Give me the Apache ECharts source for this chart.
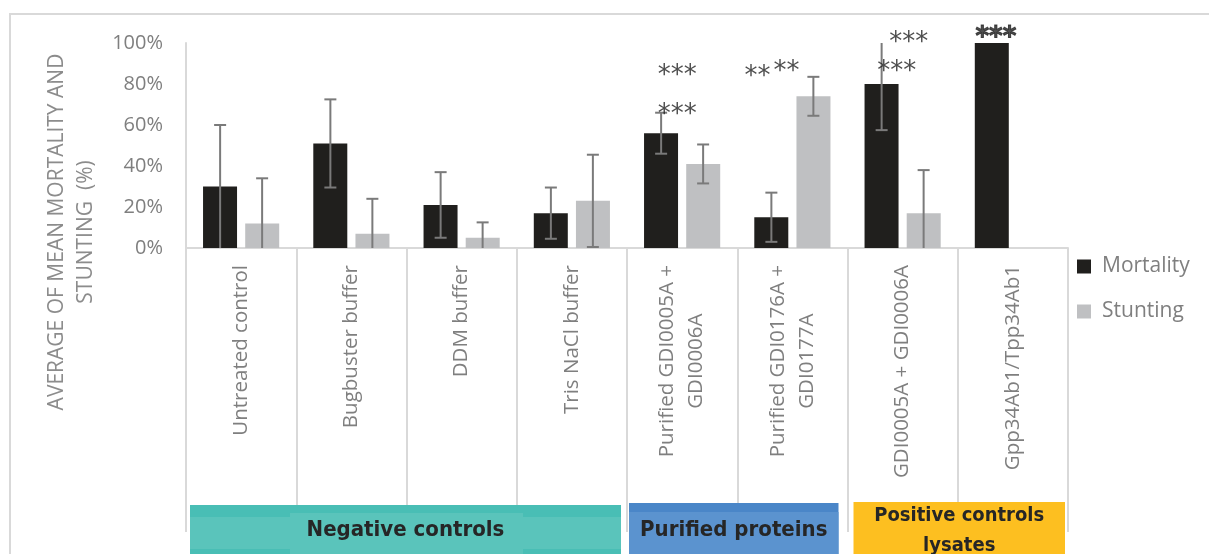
<!DOCTYPE html>
<html>
<head>
<meta charset="utf-8">
<script src="https://cdn.jsdelivr.net/npm/echarts@6/dist/echarts.min.js"></script>
<style>
html,body{margin:0;padding:0;background:#fff;}
#chart{width:1209px;height:554px;}
</style>
</head>
<body>
<div id="chart"></div>
<script>
// ---- data ----
const categories = [
  'Untreated control',
  'Bugbuster buffer',
  'DDM buffer',
  'Tris NaCl buffer',
  'Purified GDI0005A +\nGDI0006A',
  'Purified GDI0176A +\nGDI0177A',
  'GDI0005A + GDI0006A',
  'Gpp34Ab1/Tpp34Ab1'
];
const mortality    = [30, 51, 21, 17, 56, 15, 80, 100];
const mortalityErr = [30, 21.5, 16, 12.5, 10, 12, 22.5, 0];
const stunting     = [12, 7, 5, 23, 41, 74, 17, 0];
const stuntingErr  = [22, 17, 7.5, 22.5, 9.5, 9.5, 21, 0];
const yTicks = [0, 20, 40, 60, 80, 100];

// significance marks: category index, value level, text
const sigIndex = [4, 4, 5, 5, 6, 6, 7];
const sigValue = [86.3, 67.3, 85.9, 88.3, 102.4, 88.3, 104.9];
const sigText  = ['***', '***', '**', '**', '***', '***', '***'];

const groupNames = ['Negative controls', 'Purified proteins', 'Positive controls\nlysates'];
const groupStart = [0, 4, 6];
const groupEnd   = [3, 5, 7];

// ---- styling ----
const sigDx = [-5, -5, -35, -6, 6, -6, -17];
const sigBold = [false, false, false, false, false, false, true];
const BAR_W = 34, HALF_OFF = 21;
const FONT = '"Open Sans", "DejaVu Sans", sans-serif';
const GRAY = '#7f7f7f';

function errSeries(means, errs, off) {
  return {
    type: 'custom',
    z: 5,
    silent: true,
    data: means.map((m, i) => [i, m, errs[i]]),
    renderItem: function (params, api) {
      const i = api.value(0), m = api.value(1), e = api.value(2);
      if (!e) return null;
      const hiV = Math.min(m + e, 100), loV = Math.max(m - e, 0);
      const hi = api.coord([i, hiV]);
      const lo = api.coord([i, loV]);
      const x = hi[0] + off;
      const st = { stroke: '#7a7a7a', lineWidth: 2 };
      const ch = [{ type: 'line', shape: { x1: x, y1: hi[1], x2: x, y2: lo[1] }, style: st }];
      if (m + e < 100) ch.push({ type: 'line', shape: { x1: x - 6, y1: hi[1], x2: x + 6, y2: hi[1] }, style: st });
      if (m - e > 0) ch.push({ type: 'line', shape: { x1: x - 6, y1: lo[1], x2: x + 6, y2: lo[1] }, style: st });
      return { type: 'group', children: ch };
    }
  };
}

const chart = echarts.init(document.getElementById('chart'));
const option = {
  animation: false,
  backgroundColor: '#ffffff',
  textStyle: { fontFamily: FONT },
  grid: { left: 186, right: 141, top: 43, bottom: 306, containLabel: false },
  legend: {
    orient: 'vertical',
    left: 1072, top: 251,
    itemWidth: 14, itemHeight: 14, itemGap: 24,
    icon: 'rect',
    data: ['Mortality', 'Stunting'],
    textStyle: { color: GRAY, fontSize: 21, lineHeight: 20, fontFamily: FONT, padding: [0, 0, 0, 6] }
  },
  xAxis: {
    type: 'category',
    data: categories,
    axisLine: { lineStyle: { color: '#d9d9d9', width: 2 } },
    axisTick: { show: true, length: 284, interval: 0, lineStyle: { color: '#d9d9d9', width: 2 } },
    axisLabel: {
      interval: 0,
      rotate: 90,
      margin: 17,
      color: GRAY,
      fontSize: 20.5,
      fontFamily: FONT,
      formatter: v => v.split('\n').map(s => '{c|' + s + '}').join('\n'),
      rich: { c: { align: 'center', color: GRAY, fontSize: 20.5, fontFamily: FONT, lineHeight: 29 } }
    }
  },
  yAxis: {
    type: 'value',
    min: yTicks[0], max: yTicks[yTicks.length - 1], interval: 20,
    axisLine: { show: true, lineStyle: { color: '#d9d9d9', width: 2 } },
    axisTick: { show: false },
    splitLine: { show: false },
    axisLabel: { formatter: '{value}%', color: GRAY, fontSize: 20, fontFamily: FONT, margin: 23 }
  },
  series: [
    { name: 'Mortality', type: 'bar', data: mortality, barWidth: BAR_W, barGap: '24%',
      itemStyle: { color: '#201f1d' } },
    { name: 'Stunting', type: 'bar', data: stunting, barWidth: BAR_W,
      itemStyle: { color: '#bfc0c2' } },
    errSeries(mortality, mortalityErr, -HALF_OFF),
    errSeries(stunting, stuntingErr, HALF_OFF),
    {
      type: 'scatter',
      clip: false,
      silent: true,
      symbolSize: 0,
      z: 6,
      data: sigIndex.map((c, k) => ({
        value: [c, sigValue[k]],
        label: {
          show: true, position: 'inside', formatter: sigText[k], offset: [sigDx[k], 5],
          color: '#222', fontSize: 26, fontFamily: '"DejaVu Sans", sans-serif',
          fontWeight: sigBold[k] ? 'bold' : 'normal',
          textBorderColor: sigBold[k] ? '#222' : 'transparent', textBorderWidth: sigBold[k] ? 1 : 0
        }
      }))
    }
  ]
};
chart.setOption(option);

// group boxes under the axis, located from the category scale
const band = (chart.convertToPixel({ xAxisIndex: 0 }, 1) - chart.convertToPixel({ xAxisIndex: 0 }, 0));
const boxColors = [
  { main: '#5ac4bb', edge: '#49beb5' },
  { main: '#5b93cf', edge: '#4a86c8' },
  { main: '#fdbf20', edge: '#fdbf20' }
];
const insets = [[4, 6], [2, 9], [6, 3]];
const boxTop = [505, 503, 502];
const boxFont = [22, 22, 20];
const graphics = [
  { type: 'rect', shape: { x: 10, y: 14, width: 1230, height: 600 }, style: { fill: 'none', stroke: '#d9d9d9', lineWidth: 2 }, z: -1 }
];
groupNames.forEach((name, g) => {
  const x0 = chart.convertToPixel({ xAxisIndex: 0 }, groupStart[g]) - band / 2 + insets[g][0];
  const x1 = chart.convertToPixel({ xAxisIndex: 0 }, groupEnd[g]) + band / 2 - insets[g][1];
  const y0 = boxTop[g];
  graphics.push({ type: 'rect', shape: { x: x0, y: y0, width: x1 - x0, height: 554 - y0 + 5 }, style: { fill: boxColors[g].edge }, z: 10 });
  if (g === 0) {
    graphics.push({ type: 'rect', shape: { x: x0, y: 517, width: x1 - x0, height: 32 }, style: { fill: boxColors[g].main }, z: 11 });
    graphics.push({ type: 'rect', shape: { x: x0 + 100, y: 513, width: 233, height: 50 }, style: { fill: boxColors[g].main }, z: 11 });
  } else if (g === 1) {
    graphics.push({ type: 'rect', shape: { x: x0, y: y0 + 9, width: x1 - x0, height: 554 - y0 }, style: { fill: boxColors[g].main }, z: 11 });
  }
  const lines = name.split('\n');
  graphics.push({
    type: 'text', z: 12,
    style: {
      x: (x0 + x1) / 2, y: lines.length > 1 ? 531 : 530,
      text: name, align: 'center', verticalAlign: 'middle',
      fill: '#262626', fontSize: boxFont[g], fontWeight: 'bold', lineHeight: 30,
      fontFamily: '"Liberation Sans Narrow", "DejaVu Sans Condensed", sans-serif'
    }
  });
});
graphics.push({
  type: 'text', z: 12, x: 72, y: 232, rotation: Math.PI / 2,
  style: {
    x: 0, y: 0, text: 'AVERAGE OF MEAN MORTALITY AND\nSTUNTING  (%)',
    align: 'center', verticalAlign: 'middle', fill: '#8c8c8c',
    fontSize: 21, lineHeight: 29, fontFamily: FONT
  }
});
chart.setOption({ graphic: graphics });
</script>
</body>
</html>
